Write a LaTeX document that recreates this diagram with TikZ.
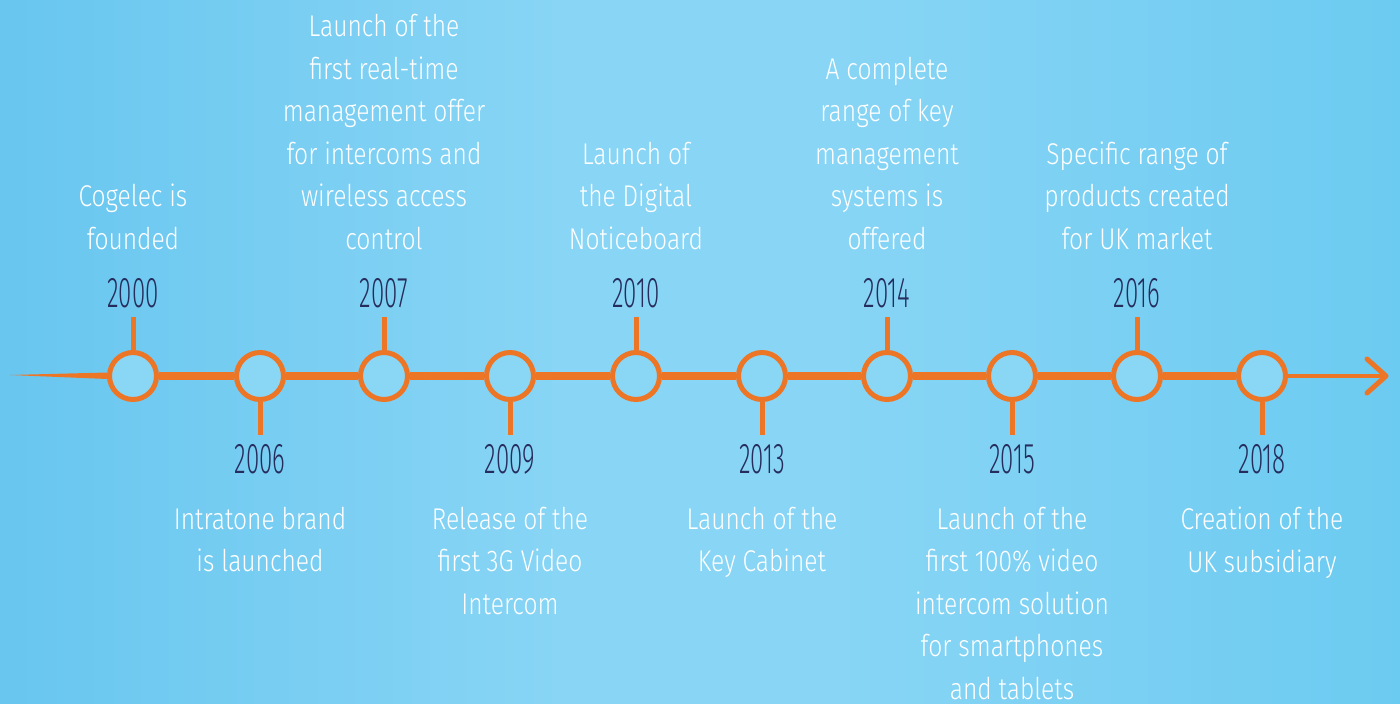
\documentclass[tikz,border=0pt]{standalone}
\usepackage{fontspec}
\newfontfamily\descfont{Fira Sans Light}[FakeStretch=0.82]
\newfontfamily\yearfont{Fira Sans Light}[FakeStretch=0.56]
\definecolor{brush}{RGB}{237,117,38}
\definecolor{navy}{RGB}{38,45,92}
\definecolor{bgA}{RGB}{104,198,239}
\definecolor{bgB}{RGB}{136,213,245}
\definecolor{bgC}{RGB}{108,203,241}
\definecolor{inner}{RGB}{138,214,245}
\tikzset{
  dot/.style={circle, draw=brush, line width=5pt, fill=inner, minimum size=47pt, inner sep=0pt},
  bar/.style={draw=brush, line width=8.5pt},
  tick/.style={draw=brush, line width=5pt},
  year/.style={text=navy, font=\yearfont\fontsize{43}{43}\selectfont, inner sep=0pt, anchor=base},
  desc/.style={text=white, font=\descfont\fontsize{30}{42.5}\selectfont, align=center, inner sep=0pt},
  topdesc/.style={desc, anchor=south},
  botdesc/.style={desc, anchor=north},
}
\begin{document}
\begin{tikzpicture}[x=1pt,y=-1pt]
\useasboundingbox (0,0) rectangle (1400,704);
\fill[bgB] (0,0) rectangle (1400,704);
\shade[left color=bgA, right color=bgB] (0,0) rectangle (560,704);
\shade[left color=bgB, right color=bgB] (559,0) rectangle (841,704);
\shade[left color=bgB, right color=bgC] (840,0) rectangle (1400,704);
% circles
\foreach \i/\x in {1/133,2/260,3/384,4/510,5/636,6/762,7/887,8/1012,9/1137,10/1262}
  \node[dot] (c\i) at (\x,376) {};
% main line
\coordinate (start) at (10,375);
\coordinate (tip) at (1386,376);
\fill[brush] (start) -- (c1.west |- 0,372.5) -- (c1.west |- 0,379) -- cycle;
\foreach \a/\b in {1/2,2/3,3/4,4/5,5/6,6/7,7/8,8/9,9/10}
  \draw[bar] (c\a) -- (c\b);
\draw[draw=brush, line width=4pt] (c10) -- (tip);
\coordinate (wingA) at (1367,359);
\coordinate (wingB) at (1367,393);
\draw[draw=brush, line width=5pt, line cap=round, line join=round] (wingA) -- (tip) -- (wingB);
% ticks
\foreach \i in {1,3,5,7,9}
  \draw[tick] (c\i.north) -- ++(0,-33);
\foreach \i in {2,4,6,8,10}
  \draw[tick] (c\i.south) -- ++(0,33);
% years
\node[year] (y2000) at (133,307) {2000};
\node[year] (y2007) at (384,307) {2007};
\node[year] (y2010) at (636,307) {2010};
\node[year] (y2014) at (887,307) {2014};
\node[year] (y2016) at (1137,307) {2016};
\node[year] (y2006) at (260,473) {2006};
\node[year] (y2009) at (510,473) {2009};
\node[year] (y2013) at (762,473) {2013};
\node[year] (y2015) at (1012,473) {2015};
\node[year] (y2018) at (1262,473) {2018};
% descriptions
\node[topdesc] (d2000) at (133,250) {Cogelec is\\founded};
\node[topdesc] (d2007) at (384,250) {Launch of the\\first real-time\\management offer\\for intercoms and\\wireless access\\control};
\node[topdesc] (d2010) at (636,250) {Launch of\\the Digital\\Noticeboard};
\node[topdesc] (d2014) at (887,250) {A complete\\range of key\\management\\systems is\\offered};
\node[topdesc] (d2016) at (1137,250) {Specific range of\\products created\\for UK market};
\node[botdesc] (d2006) at (260,507) {Intratone brand\\is launched};
\node[botdesc] (d2009) at (510,507) {Release of the\\first 3G Video\\Intercom};
\node[botdesc] (d2013) at (762,507) {Launch of the\\Key Cabinet};
\node[botdesc] (d2015) at (1012,507) {Launch of the\\first 100\% video\\intercom solution\\for smartphones\\and tablets};
\node[botdesc] (d2018) at (1262,507) {Creation of the\\UK subsidiary};
\end{tikzpicture}
\end{document}
